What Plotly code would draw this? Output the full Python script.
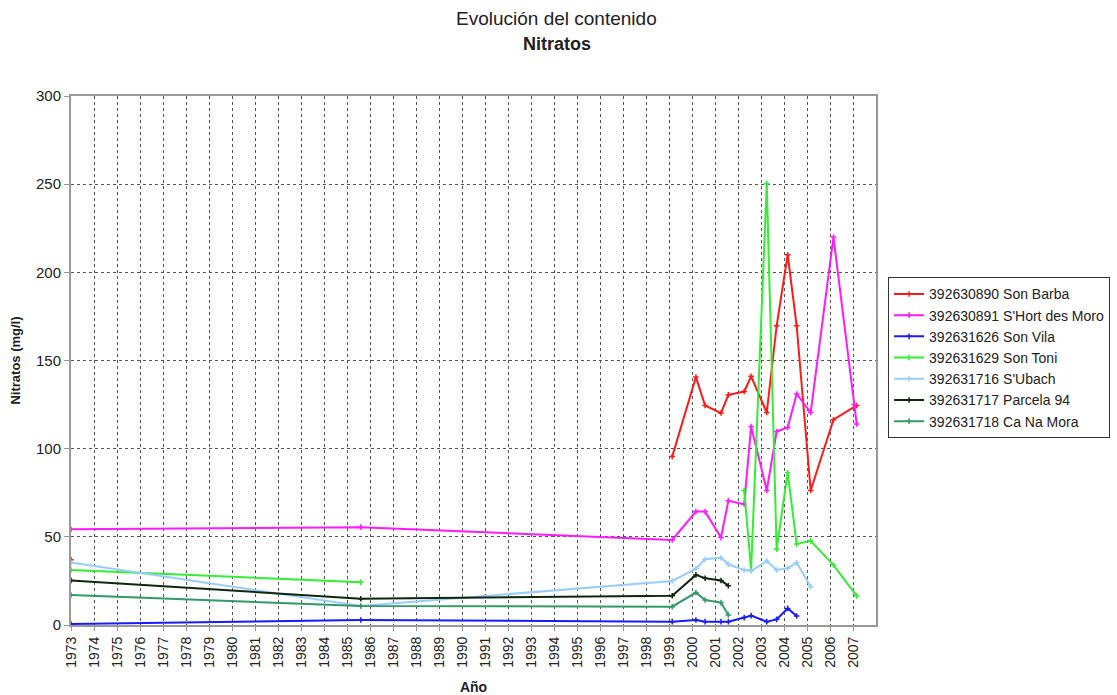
import plotly.graph_objects as go

N = None
# dates (decimal years) and values per series; None marks a gap in the line
son_barba_x  = [1973.0, 1985.6, 1999.14, 2000.17, 2000.57, 2001.26, 2001.58, 2002.27, 2002.57, 2003.25, 2003.68, 2004.16, 2004.55, 2005.16, 2006.15, 2007.16]
son_barba    = [37, N, 95.5, 140.6, 124.5, 120.2, 130.5, 132.4, 141, 120.5, 169.7, 210, 169.7, 76.3, 116.4, 124.5]

short_moro_x = [1973.0, 1985.6, 1999.14, 2000.17, 2000.57, 2001.26, 2001.58, 2002.27, 2002.57, 2003.25, 2003.68, 2004.16, 2004.55, 2005.16, 2006.15, 2007.05, 2007.16]
short_moro   = [54.3, 55.5, 48.2, 64.3, 64.3, 49.6, 70.4, 68.5, 112.6, 76.3, 109.7, 112, 131, 120.5, 220, 125, 114]

son_vila_x   = [1973.0, 1985.6, 1999.14, 2000.17, 2000.57, 2001.26, 2001.58, 2002.27, 2002.57, 2003.25, 2003.68, 2004.16, 2004.55]
son_vila     = [0.6, 2.8, 1.9, 2.8, 1.9, 1.9, 1.9, 4.2, 5.3, 1.9, 3.2, 9.4, 5.1]

son_toni_x   = [1973.0, 1985.6, 1999.14, 2002.27, 2002.57, 2003.25, 2003.68, 2004.16, 2004.55, 2005.16, 2006.15, 2007.16]
son_toni     = [31.2, 24.2, N, 76.3, 31.2, 250.3, 43, 86.5, 46, 47.7, 34, 16.5]

s_ubach_x    = [1973.0, 1985.6, 1999.14, 2000.17, 2000.57, 2001.26, 2001.58, 2002.27, 2002.57, 2003.25, 2003.68, 2004.16, 2004.55, 2005.16]
s_ubach      = [35.4, 10.8, 25, 32, 37.3, 38.2, 34.4, 31.2, 30.6, 36.3, 31.2, 32.2, 35.4, 21.7]

parcela_94_x = [1973.0, 1985.6, 1999.14, 2000.17, 2000.57, 2001.26, 2001.58]
parcela_94   = [25.3, 14.9, 16.6, 28.4, 26.5, 25.2, 22.3]

ca_na_mora_x = [1973.0, 1985.6, 1999.14, 2000.17, 2000.57, 2001.26, 2001.58]
ca_na_mora   = [17, 10.8, 10.4, 18.4, 14.2, 12.7, 5.7]

names = ["392630890 Son Barba", "392630891 S'Hort des Moro", "392631626 Son Vila",
         "392631629 Son Toni", "392631716 S'Ubach", "392631717 Parcela 94",
         "392631718 Ca Na Mora"]
xs_all = [son_barba_x, short_moro_x, son_vila_x, son_toni_x, s_ubach_x, parcela_94_x, ca_na_mora_x]
ys_all = [son_barba, short_moro, son_vila, son_toni, s_ubach, parcela_94, ca_na_mora]
colors = ["#ff1a1a", "#ff1aff", "#1a1aff", "#33ee33", "#99ccff", "#0d260d", "#339966"]

years = list(range(1973, 2008))

fig = go.Figure()
for name, xs, ys, col in zip(names, xs_all, ys_all, colors):
    fig.add_trace(go.Scatter(
        x=xs, y=ys, name=name, mode="lines+markers",
        connectgaps=False,
        line=dict(color=col, width=2),
        marker=dict(symbol="cross-thin", size=4, line=dict(color=col, width=1.5), color=col),
    ))

fig.update_layout(
    width=1117, height=695,
    paper_bgcolor="white", plot_bgcolor="white",
    margin=dict(l=71, r=241, t=96, b=70, autoexpand=False),
    font=dict(family="Arial, Liberation Sans, sans-serif", color="#222222"),
    showlegend=True,
    legend=dict(
        x=1.015, xanchor="left", y=0.505, yanchor="middle",
        bordercolor="#333333", borderwidth=1, bgcolor="white",
        font=dict(size=14, color="#222222"),
        tracegroupgap=0, itemwidth=30,
    ),
    annotations=[
        dict(text="Evolución del contenido", xref="paper", yref="paper",
             x=0.6037, y=1.1474, xanchor="center", yanchor="middle",
             showarrow=False, font=dict(size=19, color="#222222")),
        dict(text="<b>Nitratos</b>", xref="paper", yref="paper",
             x=0.6037, y=1.0983, xanchor="center", yanchor="middle",
             showarrow=False, font=dict(size=18, color="#222222")),
    ],
)

fig.update_xaxes(
    range=[1973, 2008], tickmode="array", tickvals=years,
    ticktext=[str(y) for y in years], tickangle=-90,
    tickfont=dict(size=14, color="#222222"),
    showgrid=True, gridcolor="#555555", griddash="dot", gridwidth=1,
    showline=True, linecolor="#999999", linewidth=2, mirror=True,
    ticks="outside", ticklen=4, tickcolor="#999999",
    zeroline=False, automargin=False,
    title=dict(text="<b>Año</b>", font=dict(size=14, color="#222222"), standoff=16),
)
fig.update_yaxes(
    range=[0, 300], tickvals=[0, 50, 100, 150, 200, 250, 300],
    tickfont=dict(size=15, color="#222222"),
    showgrid=True, gridcolor="#555555", griddash="dot", gridwidth=1,
    showline=True, linecolor="#999999", linewidth=2, mirror=True,
    ticks="outside", ticklen=5, tickcolor="#999999",
    zeroline=False, automargin=False,
    title=dict(text="<b>Nitratos (mg/l)</b>", font=dict(size=13, color="#222222"), standoff=12),
)

fig.write_html("out.html", post_script="document.body.style.margin='0';",
               config={"displayModeBar": False})
